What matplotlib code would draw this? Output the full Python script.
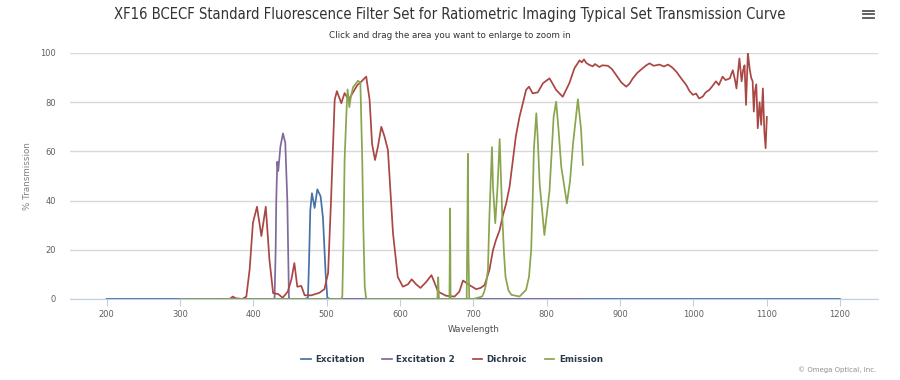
import numpy as np
import matplotlib
matplotlib.use("Agg")
import matplotlib.pyplot as plt
from matplotlib.lines import Line2D

# wavelength (nm) / % transmission
exc_wl = [200, 470, 474.5, 476, 477.7, 480, 483.6, 487.3, 491.8, 495, 498.6, 501, 505, 1200]
exc_t = [0, 0, 0.5, 15, 36, 43, 37, 44.6, 41.7, 33, 10.5, 0.5, 0, 0]

exc2_wl = [300, 428, 429, 430.5, 431.3, 432.7, 434, 437, 440.5, 443.6, 446.4, 448.6, 450, 850]
exc2_t = [0, 0, 0.5, 20, 40, 55.8, 52, 62, 67.3, 63.5, 40, 0.5, 0, 0]

dic_wl = [360, 368, 372, 376, 385, 390.5, 395, 399.5, 405, 411, 417, 422, 427, 434, 440,
          447, 452, 456, 460, 465.5, 470, 479, 490, 497, 502, 506, 511, 514, 520, 524.5,
          530, 536, 542, 547, 554, 558.6, 562, 566, 570, 574.6, 579, 583.6, 590.5, 597,
          604, 611, 616, 622, 628, 636, 643, 652, 663, 674.5, 681, 686, 695, 704, 710,
          715.5, 722, 727, 731, 736, 740, 745, 749.5, 754, 758, 763, 768, 772, 776, 781,
          788, 795, 804, 813, 822, 831, 838, 845, 848, 851, 854, 858, 863, 866, 872, 876,
          883.6, 889, 895, 902, 908.6, 913, 917.6, 924, 931, 936, 940.5, 946, 954, 960,
          965.5, 971, 977, 984, 990.5, 995, 999.5, 1004, 1008, 1013, 1017, 1022, 1026,
          1031, 1035, 1040, 1044, 1050, 1052, 1054, 1057, 1059, 1061, 1063, 1066, 1068,
          1070, 1072, 1074.5, 1077, 1079, 1081, 1082.6, 1084, 1086, 1088, 1090.5, 1092.7,
          1095, 1097, 1098.7, 1100.4]
dic_t = [0, 0, 1, 0.3, 0, 1, 12, 31, 37.5, 25.6, 37.5, 16, 2.4, 2, 0.5,
         3, 8, 14.6, 5, 5.3, 1.5, 1.5, 2.5, 4, 10.5, 40, 81, 84.5, 79.6, 83.7,
         81, 84, 87, 88.3, 90.4, 81, 63, 56.5, 62, 70, 66, 60.6, 26.8, 9,
         5, 6, 8, 6, 4.5, 7, 9.7, 3, 1.3, 1, 3, 7.5, 5.6, 4, 4.5,
         5.7, 11.8, 20, 24, 28, 33.5, 39, 45.6, 56.5, 66, 74, 80, 85, 86.3, 83.6,
         84, 87.7, 89.7, 85, 82.2, 87.7, 93.8, 97, 96.2, 97.4, 96, 95.2, 94.6, 95.5, 94.3, 95,
         94.8, 93.5, 91, 88, 86.3, 87.5, 89.7, 92, 93.8, 95, 95.8, 94.8, 95.3, 94.5,
         95.3, 94.2, 92.4, 89.5, 87, 84.5, 83, 83.5, 81.5, 82.3, 84, 85, 86.5,
         88.5, 87, 90.4, 89, 89.7, 91.5, 93, 89, 85.6, 92, 97.8, 88.5, 93,
         95, 78.9, 100, 93.5, 90, 88.5, 76.2, 84, 87.3, 69.4, 80, 70.8,
         85.6, 68, 61.3, 74]

em_wl = [300, 520, 521.4, 523, 524.5, 527, 528.6, 531, 533, 536, 542.7, 546, 548.6, 550,
         552, 554, 558, 651, 652.2, 653, 653.8, 655, 667.5, 668.4, 669, 669.6, 670.5,
         691, 692, 692.7, 693.4, 694.5, 700, 712, 715, 717.7, 720, 722, 725.5, 727,
         730, 733, 736, 739.6, 742, 744, 748, 752, 763, 772, 776, 779, 781, 782.7,
         786, 788, 790.5, 797, 804, 809.6, 813, 816, 820, 827.7, 832, 836, 842.7,
         847, 849.5]
em_t = [0, 0, 1, 25, 56.5, 75.5, 85.2, 78, 82, 86, 88.7, 88, 56.5, 30,
        5, 0, 0, 0, 8.8, 1, 0, 0, 0, 36.8, 2, 0, 0,
        0, 30, 59, 20, 0, 0, 1, 3, 6.4, 12, 33.5, 61.7, 45,
        30.8, 45, 65, 33.5, 18, 9, 3.5, 1.7, 1, 3.7, 9, 20, 40, 61,
        75.5, 65, 47, 26, 44, 74, 80.2, 70, 53.8, 38.9, 48, 63, 81.2,
        69, 54.5]

names = ["Excitation", "Excitation 2", "Dichroic", "Emission"]
colors = ["#4572A7", "#80699B", "#AA4643", "#89A54E"]

fig = plt.figure(figsize=(9, 3.8), dpi=100)
ax = fig.add_axes([70 / 900, 1 - 299 / 380, 808 / 900, 246 / 380])

for wl, t, c, n in zip([exc_wl, exc2_wl, dic_wl, em_wl], [exc_t, exc2_t, dic_t, em_t], colors, names):
    ax.plot(wl, t, color=c, lw=1.25, label=n, solid_joinstyle="round", zorder=3)

ax.set_xlim(150, 1252)
ax.set_ylim(0, 100)
ax.set_xticks(np.arange(200, 1201, 100))
ax.set_yticks(np.arange(0, 101, 20))
ax.grid(axis="y", color="#D8D8D8", lw=1)
ax.set_axisbelow(True)
for s in ["top", "right", "left"]:
    ax.spines[s].set_visible(False)
ax.spines["bottom"].set_color("#C0D0E0")
ax.tick_params(axis="x", length=5, color="#C0D0E0", labelsize=6, labelcolor="#606060", pad=3)
ax.tick_params(axis="y", length=0, labelsize=6, labelcolor="#606060", pad=10)
ax.set_xlabel("Wavelength", fontsize=6.3, color="#4d4d4d", labelpad=4)
ax.set_ylabel("% Transmission", fontsize=6.3, color="#808080", labelpad=6)

fig.text(0.5, 1 - 14 / 380, "XF16 BCECF Standard Fluorescence Filter Set for Ratiometric Imaging Typical Set Transmission Curve",
         ha="center", va="center", fontsize=10.6, color="#333333", fontstretch="condensed")
fig.text(0.5, 1 - 36 / 380, "Click and drag the area you want to enlarge to zoom in",
         ha="center", va="center", fontsize=6.3, color="#333333")
fig.text(876 / 900, 1 - 370 / 380, "\u00a9 Omega Optical, Inc.", ha="right", va="center",
         fontsize=5, color="#909090")

# menu icon
for yy in [10.5, 14, 17.5]:
    fig.add_artist(Line2D([863 / 900, 874 / 900], [1 - yy / 380] * 2, color="#555555", lw=1.3))

leg = fig.legend(loc="center", bbox_to_anchor=(452 / 900, 1 - 360 / 380), ncol=4, frameon=False,
                 handlelength=1.1, handletextpad=0.5, columnspacing=2.0,
                 prop={"weight": "bold", "size": 6.3})
for t in leg.get_texts():
    t.set_color("#2b3a4a")

fig.savefig("out.png", dpi=100)
